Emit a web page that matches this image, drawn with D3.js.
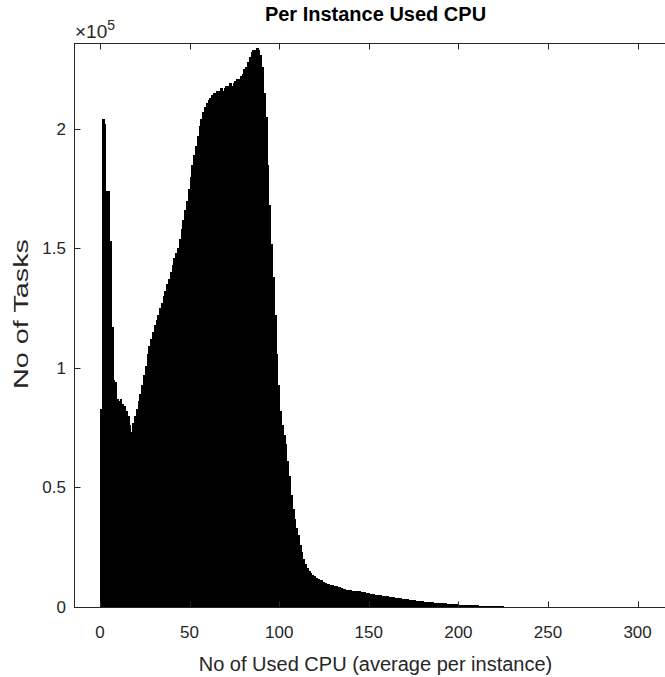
<!DOCTYPE html>
<html>
<head>
<meta charset="utf-8">
<script src="https://cdn.jsdelivr.net/npm/d3@7"></script>
<style>
  body { margin: 0; background: #fff; }
  text { font-family: "Liberation Sans", Arial, sans-serif; fill: #262626; }
</style>
</head>
<body>
<svg width="665" height="677"></svg>
<script>
// histogram: bins of width 1 starting at 0, heights in units of 10^5 tasks
const binStart = 0;
const binWidth = 1;
const tasks = [
  0.83, 2.04, 2.02, 1.74, 1.74, 1.53, 1.17, 0.95, 0.94, 0.87,
  0.86, 0.87, 0.85, 0.84, 0.82, 0.80, 0.76, 0.73, 0.77, 0.80,
  0.83, 0.86, 0.89, 0.93, 0.97, 1.01, 1.06, 1.09, 1.12, 1.15,
  1.18, 1.20, 1.22, 1.25, 1.27, 1.30, 1.32, 1.35, 1.37, 1.40,
  1.43, 1.46, 1.48, 1.50, 1.54, 1.58, 1.62, 1.66, 1.70, 1.75,
  1.80, 1.85, 1.89, 1.93, 1.97, 2.01, 2.04, 2.07, 2.09, 2.11,
  2.12, 2.13, 2.14, 2.15, 2.14, 2.16, 2.16, 2.17, 2.16, 2.17,
  2.18, 2.18, 2.19, 2.18, 2.19, 2.20, 2.21, 2.21, 2.22, 2.23,
  2.25, 2.26, 2.28, 2.30, 2.32, 2.33, 2.33, 2.34, 2.33, 2.31,
  2.26, 2.15, 2.05, 1.85, 1.68, 1.52, 1.38, 1.22, 1.06, 0.93,
  0.82, 0.76, 0.72, 0.68, 0.61, 0.55, 0.47, 0.41, 0.37, 0.33,
  0.30, 0.26, 0.23, 0.20, 0.18, 0.165, 0.152, 0.143, 0.135, 0.128,
  0.122, 0.118, 0.114, 0.111, 0.106, 0.102, 0.098, 0.095, 0.092, 0.090,
  0.088, 0.086, 0.084, 0.082, 0.080, 0.077, 0.075, 0.073, 0.071, 0.070,
  0.069, 0.068, 0.067, 0.066, 0.065, 0.064, 0.062, 0.061, 0.060, 0.058,
  0.056, 0.055, 0.054, 0.052, 0.051, 0.050, 0.049, 0.047, 0.046, 0.045,
  0.044, 0.043, 0.041, 0.040, 0.039, 0.038, 0.037, 0.036, 0.035, 0.034,
  0.033, 0.032, 0.031, 0.030, 0.029, 0.028, 0.027, 0.026, 0.025, 0.024,
  0.023, 0.022, 0.021, 0.021, 0.020, 0.019, 0.018, 0.018, 0.017, 0.016,
  0.016, 0.015, 0.015, 0.014, 0.013, 0.013, 0.012, 0.012, 0.011, 0.011,
  0.010, 0.010, 0.009, 0.009, 0.009, 0.008, 0.008, 0.008, 0.007, 0.007,
  0.007, 0.006, 0.006, 0.006, 0.006, 0.005, 0.005, 0.005, 0.005, 0.004,
  0.004, 0.004, 0.004, 0.006, 0.003
];

const xTicks = [0, 50, 100, 150, 200, 250, 300];
const yTicks = [0, 0.5, 1, 1.5, 2];
const yTickLabels = ['0', '0.5', '1', '1.5', '2'];

const title = 'Per Instance Used CPU';
const xTitle = 'No of Used CPU (average per instance)';
const yTitle = 'No of Tasks';

const axisColor = '#262626';
const tickLen = 6;

// axes box, right edge falls just outside the window like the reference
const plotLeft = 74, plotTop = 43, plotBottom = 607, plotRight = 677;

const x = d3.scaleLinear().domain([-14.5, 322]).range([plotLeft, plotRight]);
const y = d3.scaleLinear().domain([0, 2.359]).range([plotBottom, plotTop]);

const svg = d3.select('svg');

// bars - crisp and overlapping by a pixel so no seams show between them
svg.append('g')
  .attr('class', 'bars')
  .attr('shape-rendering', 'crispEdges')
  .selectAll('rect')
  .data(tasks)
  .enter().append('rect')
  .attr('x', (d, i) => x(binStart + i * binWidth))
  .attr('width', (d, i) => x(binStart + (i + 1) * binWidth) - x(binStart + i * binWidth) + 1)
  .attr('y', d => y(d))
  .attr('height', d => y(0) - y(d))
  .attr('fill', '#000');

// box
const axes = svg.append('g').attr('class', 'axes')
  .attr('stroke', axisColor).attr('stroke-width', 1).attr('fill', 'none');

axes.append('rect')
  .attr('x', plotLeft + 0.5).attr('y', plotTop + 0.5)
  .attr('width', plotRight - plotLeft).attr('height', plotBottom - plotTop);

// x ticks, bottom and top, pointing inwards
xTicks.forEach(t => {
  const px = Math.round(x(t)) + 0.5;
  axes.append('line').attr('x1', px).attr('x2', px)
    .attr('y1', plotBottom + 0.5).attr('y2', plotBottom + 0.5 - tickLen);
  axes.append('line').attr('x1', px).attr('x2', px)
    .attr('y1', plotTop + 0.5).attr('y2', plotTop + 0.5 + tickLen);
});

// y ticks on the left
yTicks.forEach(t => {
  const py = Math.round(y(t)) + 0.5;
  axes.append('line').attr('x1', plotLeft + 0.5).attr('x2', plotLeft + 0.5 + tickLen)
    .attr('y1', py).attr('y2', py);
});

// tick labels
svg.append('g')
  .selectAll('text')
  .data(xTicks)
  .enter().append('text')
  .attr('x', d => x(d))
  .attr('y', 638)
  .attr('text-anchor', 'middle')
  .style('font-size', '17px')
  .text(d => d);

svg.append('g')
  .selectAll('text')
  .data(yTicks)
  .enter().append('text')
  .attr('x', 66)
  .attr('y', d => y(d) + 6)
  .attr('text-anchor', 'end')
  .style('font-size', '17px')
  .text((d, i) => yTickLabels[i]);

// exponent label
const expo = svg.append('text').attr('x', 75).attr('y', 38).style('font-size', '19px');
expo.append('tspan').text('\u00d710');
expo.append('tspan').attr('dy', -8).style('font-size', '14px').text('5');

// titles
svg.append('text')
  .attr('x', (plotLeft + plotRight) / 2)
  .attr('y', 21)
  .attr('text-anchor', 'middle')
  .style('font-size', '20px')
  .style('font-weight', 'bold')
  .style('fill', '#000')
  .text(title);

svg.append('text')
  .attr('x', (plotLeft + plotRight) / 2)
  .attr('y', 671)
  .attr('text-anchor', 'middle')
  .style('font-size', '20px')
  .text(xTitle);

svg.append('text')
  .attr('transform', 'translate(28, 314) rotate(-90)')
  .attr('text-anchor', 'middle')
  .attr('textLength', 150)
  .attr('lengthAdjust', 'spacingAndGlyphs')
  .style('font-size', '20px')
  .text(yTitle);
</script>
</body>
</html>
